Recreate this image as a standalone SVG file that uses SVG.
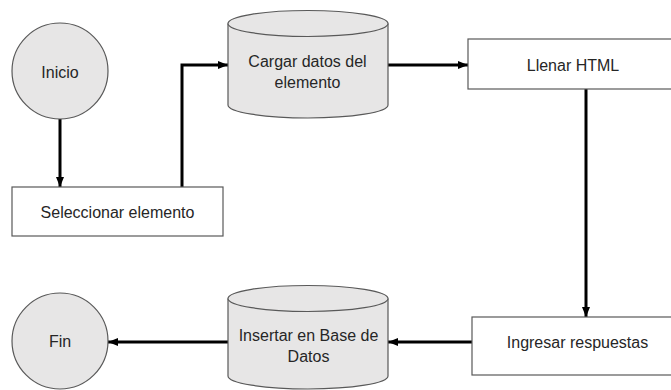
<svg xmlns="http://www.w3.org/2000/svg" width="671" height="390" viewBox="0 0 671 390">
<defs>
<style>
.shape{fill:#e7e6e6;stroke:#595959;stroke-width:1.2}
.box{fill:#ffffff;stroke:#595959;stroke-width:1.2}
.lbl{font-family:"Liberation Sans",Arial,sans-serif;font-size:16px;fill:#262626;text-anchor:middle}
.conn{fill:none;stroke:#000000;stroke-width:3}
</style>
<marker id="arr" markerUnits="userSpaceOnUse" markerWidth="10" markerHeight="10" viewBox="0 0 10 10" refX="10" refY="5" orient="auto">
<path d="M0,1 L10,5 L0,9 Z" fill="#000000"/>
</marker>
</defs>
<rect width="671" height="390" fill="#ffffff"/>
<g id="connectors">
<path class="conn" d="M60,119 L60,187" marker-end="url(#arr)"/>
<path class="conn" d="M182,187 L182,65 L228,65" marker-end="url(#arr)"/>
<path class="conn" d="M388,65 L468,65" marker-end="url(#arr)"/>
<path class="conn" d="M586,89 L586,317" marker-end="url(#arr)"/>
<path class="conn" d="M472,342 L388,342" marker-end="url(#arr)"/>
<path class="conn" d="M228,342 L108,342" marker-end="url(#arr)"/>
</g>
<g id="inicio">
<circle class="shape" cx="60" cy="71" r="48"/>
<text class="lbl" x="60" y="78">Inicio</text>
</g>
<g id="seleccionar">
<rect class="box" x="12" y="187" width="211" height="49"/>
<text class="lbl" x="117.5" y="218">Seleccionar elemento</text>
</g>
<g id="cargar">
<path class="shape" d="M228,23.5 L228,105 A80,13 0 0 0 388,105 L388,23.5"/>
<ellipse class="shape" cx="308" cy="23.5" rx="80" ry="13"/>
<text class="lbl" x="307.5" y="67">Cargar datos del</text>
<text class="lbl" x="307.5" y="88">elemento</text>
</g>
<g id="llenar">
<rect class="box" x="468" y="39" width="212" height="50"/>
<text class="lbl" x="573" y="71">Llenar HTML</text>
</g>
<g id="ingresar">
<rect class="box" x="472" y="317" width="212" height="58"/>
<text class="lbl" x="577.5" y="348">Ingresar respuestas</text>
</g>
<g id="insertar">
<path class="shape" d="M228,298.5 L228,376 A80,13 0 0 0 388,376 L388,298.5"/>
<ellipse class="shape" cx="308" cy="298.5" rx="80" ry="13"/>
<text class="lbl" x="308.5" y="341">Insertar en Base de</text>
<text class="lbl" x="308.5" y="362">Datos</text>
</g>
<g id="fin">
<circle class="shape" cx="60" cy="341" r="48"/>
<text class="lbl" x="60" y="347">Fin</text>
</g>
</svg>
